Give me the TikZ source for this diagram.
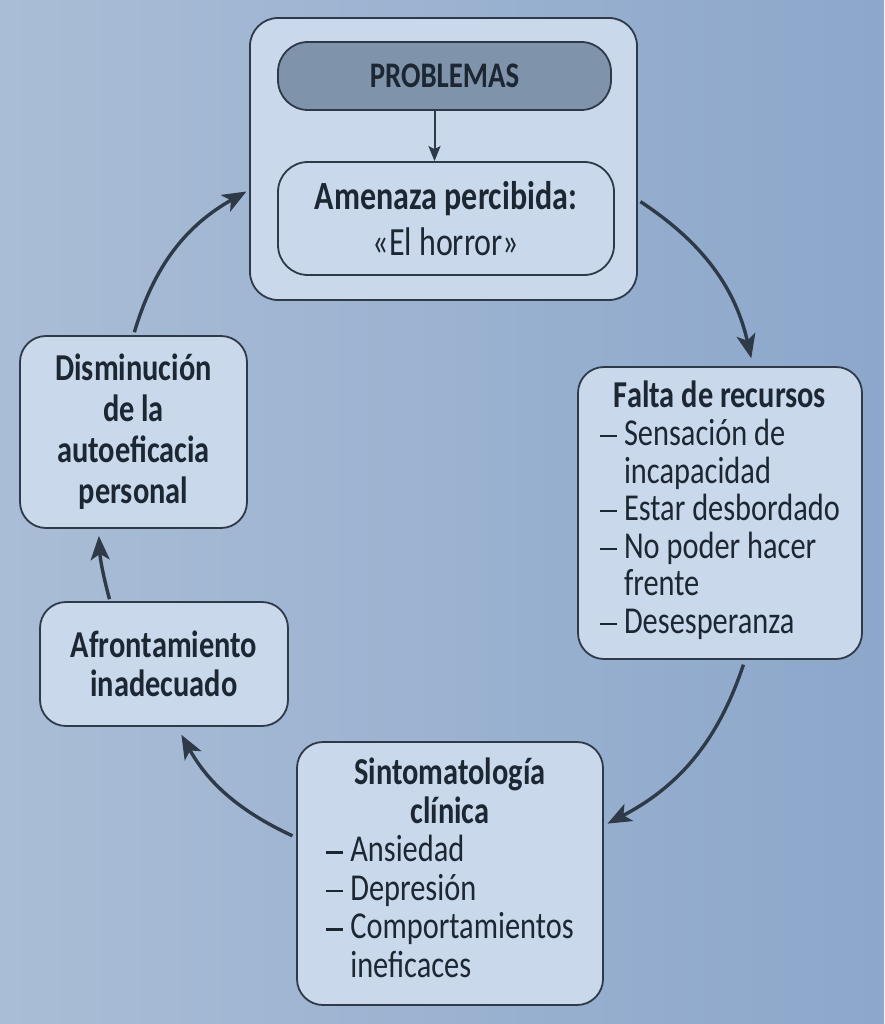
\documentclass[tikz,border=0pt]{standalone}
\usepackage{fontspec}
\setmainfont{Carlito}[FakeStretch=0.8]
\usetikzlibrary{arrows.meta}
\definecolor{bgA}{HTML}{AABDD6}
\definecolor{bgB}{HTML}{8CA7CB}
\definecolor{boxfill}{HTML}{C9D8EA}
\definecolor{probfill}{HTML}{7F93AB}
\definecolor{edge}{HTML}{2E3A48}
\definecolor{ink}{HTML}{1D2733}
\newcommand\itemdash{\rule[0.22em]{17pt}{2.2pt}}
\tikzset{
  box/.style={draw=edge, line width=1.8pt, fill=boxfill, rounded corners=26pt,
    text=ink, inner sep=0pt, align=center},
  cyc/.style={draw=edge, line width=3.4pt,
    -{Stealth[length=24pt,width=19pt,inset=6pt]}},
  small/.style={draw=edge, line width=2pt,
    -{Stealth[length=15pt,width=12pt,inset=3pt]}},
}
\begin{document}
\begin{tikzpicture}[x=1pt,y=-1pt]
\shade[left color=bgA,right color=bgB] (0,0) rectangle (884,1024);
\useasboundingbox (0,0) rectangle (884,1024);

% top group
\node[box, rounded corners=28pt, minimum width=387pt, minimum height=282pt] (outer) at (443.5,159) {};
\node[box, fill=probfill, rounded corners=30pt, minimum width=333pt, minimum height=68pt,
  font=\fontsize{36}{36}\selectfont\bfseries] (prob) at (444.5,76) {PROBLEMAS};
\node[box, rounded corners=30pt, minimum width=336pt, minimum height=113pt,
  font=\fontsize{40}{46}\selectfont] (amen) at (446,218.5)
  {\textbf{Amenaza percibida:}\\«El horror»};
\draw[small] ([xshift=-10pt]prob.south) -- ([xshift=-10pt]prob.south |- amen.north);

% right
\node[box, minimum width=284pt, minimum height=292pt,
  font=\fontsize{38}{37.5}\selectfont] (falta) at (720,513)
  {\begin{tabular}{@{}l@{\hspace{7pt}}l@{}}
   \multicolumn{2}{@{}c@{}}{\bfseries Falta de recursos}\\
   \itemdash& Sensación de\\
    & incapacidad\\
   \itemdash& Estar desbordado\\
   \itemdash& No poder hacer\\
    & frente\\
   \itemdash& Desesperanza
   \end{tabular}};

% bottom
\node[box, minimum width=306pt, minimum height=263pt,
  font=\fontsize{38}{38.5}\selectfont] (sint) at (450,873.5)
  {\begin{tabular}{@{}l@{\hspace{7pt}}l@{}}
   \multicolumn{2}{@{}c@{}}{\bfseries Sintomatología}\\
   \multicolumn{2}{@{}c@{}}{\bfseries clínica}\\
   \itemdash& Ansiedad\\
   \itemdash& Depresión\\
   \itemdash& Comportamientos\\
    & ineficaces
   \end{tabular}};

% left
\node[box, minimum width=248pt, minimum height=124pt,
  font=\fontsize{38}{39}\selectfont\bfseries] (afro) at (164,664)
  {Afrontamiento\\inadecuado};
\node[box, minimum width=227pt, minimum height=192pt,
  font=\fontsize{38}{41}\selectfont\bfseries] (dism) at (133.5,432)
  {Disminución\\de la\\autoeficacia\\personal};

% cycle arrows
\draw[cyc, shorten <=3pt, shorten >=8pt] ([yshift=-41pt]outer.east) to[bend left=22] ([xshift=33pt]falta.north);
\draw[cyc, shorten <=5pt, shorten >=4pt] ([xshift=25pt]falta.south) to[bend left=22] ([yshift=48pt]sint.east);
\draw[cyc, shorten <=4pt, shorten >=9pt] ([yshift=36pt]sint.west) to[bend left=18] ([xshift=13pt]afro.south);
\draw[cyc, shorten <=2pt, shorten >=7pt] ([xshift=-54pt]afro.north) to[bend left=6] ([xshift=-35pt]dism.south);
\draw[cyc, shorten <=3pt, shorten >=3pt] (dism.north) to[bend left=22] ([yshift=-31pt]outer.west);
\end{tikzpicture}
\end{document}
